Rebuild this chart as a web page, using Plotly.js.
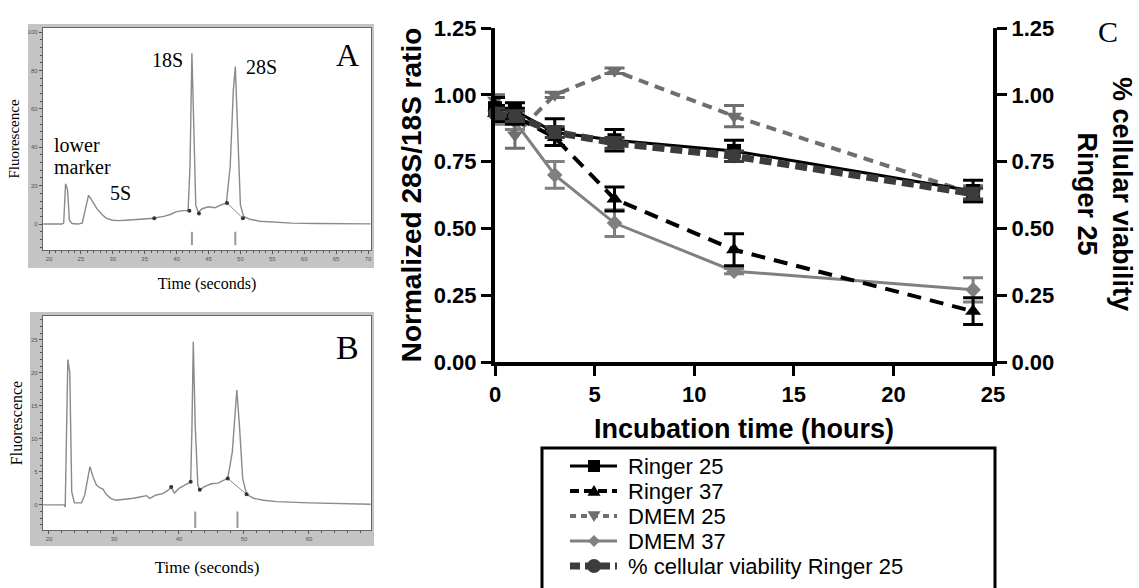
<!DOCTYPE html>
<html>
<head>
<meta charset="utf-8">
<script src="https://cdn.plot.ly/plotly-3.0.1.min.js"></script>
<style>html,body{margin:0;padding:0;background:#fff;}#chart{width:1139px;height:588px;}</style>
</head>
<body>
<div id="chart"></div>
<script>
// ---------- Panel C data (incubation time course) ----------
const hours = [0, 1, 3, 6, 12, 24];
const ringer25 = [0.95, 0.94, 0.86, 0.83, 0.79, 0.64];
const ringer25Err = [0.04, 0.03, 0.05, 0.04, 0.04, 0.04];
const ringer37 = [0.93, 0.92, 0.84, 0.61, 0.42, 0.19];
const ringer37Err = [0.03, 0.03, 0.03, 0.045, 0.06, 0.05];
const dmem25 = [0.98, 0.85, 1.00, 1.09, 0.92, 0.63];
const dmem25Err = [0.02, 0.05, 0.01, 0.01, 0.04, 0.03];
const dmem37 = [0.94, 0.90, 0.70, 0.52, 0.34, 0.27];
const dmem37Err = [0.05, 0.03, 0.05, 0.05, 0.01, 0.045];
const viability25 = [0.93, 0.92, 0.86, 0.82, 0.77, 0.63];
const viability25Err = [0.02, 0.02, 0.02, 0.02, 0.02, 0.02];
const seriesNames = ["Ringer 25", "Ringer 37", "DMEM 25", "DMEM 37", "% cellular viability Ringer 25"];
const ratioTicks = [0, 0.25, 0.5, 0.75, 1.0, 1.25];
const hourTicks = [0, 5, 10, 15, 20, 25];

// ---------- Panel A electropherogram ----------
const aTime = [19.1, 22.0, 22.3, 22.6, 22.9, 23.2, 23.6, 24.5, 25.2, 25.7, 26.2, 26.8, 27.5, 28.3, 29.0, 30, 31, 32, 33, 34, 35, 36, 36.5, 37, 38, 39, 40, 41, 41.8, 42.1, 42.4, 42.7, 43.0, 43.4, 44, 45, 46, 47, 47.8, 48.4, 48.9, 49.2, 49.6, 50.0, 50.5, 51.5, 53, 55, 58, 62, 66, 70.4];
const aFluor = [0, 0, 0.5, 21, 18, 2, 0.3, 0, 0.5, 8, 15, 12, 8, 5, 3, 2, 1.8, 2, 2.2, 2.5, 2.6, 3, 3, 3.5, 4, 5, 6.5, 7, 7, 30, 89, 50, 10, 6, 8, 9, 8.5, 10, 11, 30, 70, 82, 50, 10, 4, 2.5, 1.5, 1, 0.5, 0.3, 0.2, 0.1];
const aDotTime = [36.5, 42.0, 43.5, 47.9, 50.4];
const aDotFluor = [3, 7, 5.5, 11, 3];
const aFragTime = [42.4, 42.4, null, 49.2, 49.2];
const aFragFluor = [-4, -11, null, -4, -11];
const aXTicks = [20, 25, 30, 35, 40, 45, 50, 55, 60, 65, 70];
const aYTicks = [0, 20, 40, 60, 80, 100];

// ---------- Panel B electropherogram ----------
const bTime = [19.1, 22.3, 22.5, 22.7, 22.9, 23.2, 23.5, 23.9, 25.0, 25.5, 26.0, 26.3, 26.8, 27.3, 27.8, 28.3, 28.8, 29.5, 30.3, 31.5, 33, 34, 35, 35.5, 36.5, 37.5, 38.3, 38.8, 39.3, 40, 41, 41.8, 42.0, 42.2, 42.5, 42.9, 43.2, 44, 45, 46, 47, 47.5, 48.2, 48.6, 48.9, 49.3, 49.8, 50.4, 51.5, 53, 55, 60, 65, 69.5];
const bFluor = [0, 0, -0.3, 10, 22, 20, 2, 0.3, 0.3, 1.5, 4.5, 5.8, 4.2, 3, 2.6, 2.4, 1.6, 1, 0.7, 0.8, 1, 1.2, 1.4, 1, 1.5, 1.7, 2.2, 2.7, 1.8, 2.5, 3, 3.5, 12, 24.7, 12, 3, 2.3, 2.8, 3.2, 3.3, 3.8, 4, 8, 14, 17.4, 12, 4, 1.6, 1, 0.7, 0.5, 0.3, 0.2, 0.1];
const bDotTime = [38.8, 41.8, 43.2, 47.5, 50.4];
const bDotFluor = [2.7, 3.5, 2.3, 4, 1.6];
const bFragTime = [42.5, 42.5, null, 49.0, 49.0];
const bFragFluor = [-1, -3.5, null, -1, -3.5];
const bXTicks = [20, 30, 40, 50, 60];
const bYTicks = [0, 5, 10, 15, 20, 25];

// ---------- helpers (pixel -> paper) ----------
const W = 1139, H = 588;
const px = x => x / W;
const py = y => 1 - y / H;
const P = (x, y) => px(x) + ',' + py(y);

const SANS = 'Liberation Sans, Arial, sans-serif';
const SERIF = 'Liberation Serif, Times New Roman, serif';
const traceGray = '#8a8a8a';

const traces = [
  // Panel A
  {x: aTime, y: aFluor, xaxis: 'x2', yaxis: 'y2', mode: 'lines', line: {color: traceGray, width: 1.4}},
  {x: [aDotTime[3], aDotTime[4]], y: [aDotFluor[3], aDotFluor[4]], xaxis: 'x2', yaxis: 'y2', mode: 'lines', line: {color: traceGray, width: 1}},
  {x: aDotTime, y: aDotFluor, xaxis: 'x2', yaxis: 'y2', mode: 'markers', marker: {color: '#333', size: 4}},
  {x: aFragTime, y: aFragFluor, xaxis: 'x2', yaxis: 'y2', mode: 'lines', line: {color: '#999', width: 2}},
  // Panel B
  {x: bTime, y: bFluor, xaxis: 'x3', yaxis: 'y3', mode: 'lines', line: {color: traceGray, width: 1.4}},
  {x: [bDotTime[3], bDotTime[4]], y: [bDotFluor[3], bDotFluor[4]], xaxis: 'x3', yaxis: 'y3', mode: 'lines', line: {color: traceGray, width: 1}},
  {x: bDotTime, y: bDotFluor, xaxis: 'x3', yaxis: 'y3', mode: 'markers', marker: {color: '#333', size: 4}},
  {x: bFragTime, y: bFragFluor, xaxis: 'x3', yaxis: 'y3', mode: 'lines', line: {color: '#999', width: 2}},
  // Panel C
  {name: seriesNames[3], x: hours, y: dmem37, xaxis: 'x', yaxis: 'y', mode: 'lines+markers', cliponaxis: false,
   line: {color: '#808080', width: 3}, marker: {symbol: 'diamond', size: 12, color: '#808080'},
   error_y: {type: 'data', array: dmem37Err, color: '#808080', thickness: 3, width: 10}},
  {name: seriesNames[2], x: hours, y: dmem25, xaxis: 'x', yaxis: 'y', mode: 'lines+markers', cliponaxis: false,
   line: {color: '#6e6e6e', width: 4, dash: '10px,7px'}, marker: {symbol: 'triangle-down', size: 14, color: '#6e6e6e'},
   error_y: {type: 'data', array: dmem25Err, color: '#6e6e6e', thickness: 3, width: 10}},
  {name: seriesNames[1], x: hours, y: ringer37, xaxis: 'x', yaxis: 'y', mode: 'lines+markers', cliponaxis: false,
   line: {color: '#000', width: 4, dash: '14px,9px'}, marker: {symbol: 'triangle-up', size: 14, color: '#000'},
   error_y: {type: 'data', array: ringer37Err, color: '#000', thickness: 3, width: 10}},
  {name: seriesNames[0], x: hours, y: ringer25, xaxis: 'x', yaxis: 'y', mode: 'lines+markers', cliponaxis: false,
   line: {color: '#000', width: 3}, marker: {symbol: 'square', size: 14, color: '#000'},
   error_y: {type: 'data', array: ringer25Err, color: '#000', thickness: 3, width: 10}},
  {name: seriesNames[4], x: hours, y: viability25, xaxis: 'x', yaxis: 'y4', mode: 'lines+markers', cliponaxis: false,
   line: {color: '#3c3c3c', width: 7, dash: '12px,6px'}, marker: {symbol: 'circle', size: 14, color: '#3c3c3c'},
   error_y: {type: 'data', array: viability25Err, color: '#3c3c3c', thickness: 3, width: 10}}
];

const cAxisCommon = {
  showline: true, linewidth: 4, linecolor: '#000', ticks: 'outside', ticklen: 10, tickwidth: 3, tickcolor: '#000',
  showgrid: false, zeroline: false, fixedrange: true,
  tickfont: {family: SANS, size: 22, weight: 'bold', color: '#000'}
};
const abAxisCommon = {
  showline: true, linewidth: 1.2, linecolor: '#666', mirror: true, ticks: 'outside', ticklen: 3, tickwidth: 1, tickcolor: '#555',
  showgrid: false, zeroline: false, fixedrange: true,
  tickfont: {family: SANS, size: 6, color: '#555'}
};

const layout = {
  width: W, height: H, margin: {l: 0, r: 0, t: 0, b: 0, pad: 0},
  paper_bgcolor: '#fff', plot_bgcolor: 'rgba(0,0,0,0)', showlegend: false,
  font: {family: SANS, color: '#000'},
  // Panel C
  xaxis: Object.assign({}, cAxisCommon, {
    domain: [px(495), px(993)], anchor: 'y', range: [0, 25], tickvals: hourTicks,
    title: {text: 'Incubation time (hours)', font: {family: SANS, size: 27, weight: 'bold'}, standoff: 14}
  }),
  yaxis: Object.assign({}, cAxisCommon, {
    domain: [py(362), py(28)], anchor: 'x', range: [0, 1.25], tickvals: ratioTicks, tickformat: '.2f',
    title: {text: 'Normalized 28S/18S ratio', font: {family: SANS, size: 28, weight: 'bold'}, standoff: 5}
  }),
  yaxis4: Object.assign({}, cAxisCommon, {
    overlaying: 'y', side: 'right', anchor: 'x', range: [0, 1.25], tickvals: ratioTicks, tickformat: '.2f'
  }),
  // Panel A
  xaxis2: Object.assign({}, abAxisCommon, {
    domain: [px(43), px(371)], anchor: 'y2', range: [19.06, 70.47], tickvals: aXTicks,
    minor: {dtick: 1, ticklen: 2, tickcolor: '#555', ticks: 'outside'},
    title: {text: 'Time (seconds)', font: {family: SERIF, size: 16, color: '#000'}, standoff: 16}
  }),
  yaxis2: Object.assign({}, abAxisCommon, {
    domain: [py(250), py(28)], anchor: 'x2', range: [-13.5, 102.1], tickvals: aYTicks,
    minor: {dtick: 4, ticklen: 2, tickcolor: '#555', ticks: 'outside'},
    title: {text: 'Fluorescence', font: {family: SERIF, size: 15, color: '#000'}, standoff: 4}
  }),
  // Panel B
  xaxis3: Object.assign({}, abAxisCommon, {
    domain: [px(43), px(371)], anchor: 'y3', range: [19.08, 69.54], tickvals: bXTicks,
    minor: {dtick: 2, ticklen: 2, tickcolor: '#555', ticks: 'outside'},
    title: {text: 'Time (seconds)', font: {family: SERIF, size: 17, color: '#000'}, standoff: 19}
  }),
  yaxis3: Object.assign({}, abAxisCommon, {
    domain: [py(530), py(316)], anchor: 'x3', range: [-3.8, 28.6], tickvals: bYTicks,
    minor: {dtick: 1, ticklen: 2, tickcolor: '#555', ticks: 'outside'},
    title: {text: 'Fluorescence', font: {family: SERIF, size: 16, color: '#000'}, standoff: 4}
  }),
  shapes: [],
  annotations: []
};

// gray instrument frames for A and B with white plot windows
function frame(x0, y0, x1, y1, ix0, iy0, ix1, iy1) {
  layout.shapes.push({type: 'rect', xref: 'paper', yref: 'paper', layer: 'below',
    x0: px(x0), x1: px(x1), y0: py(y1), y1: py(y0), fillcolor: '#c4c4c4', line: {width: 0}});
  layout.shapes.push({type: 'rect', xref: 'paper', yref: 'paper', layer: 'below',
    x0: px(ix0), x1: px(ix1), y0: py(iy1), y1: py(iy0), fillcolor: '#fff', line: {width: 0}});
}
frame(28, 24, 374, 268, 43, 28, 371, 250);
frame(30, 312, 374, 546, 43, 316, 371, 530);

function ann(text, x, y, size, family, opts) {
  layout.annotations.push(Object.assign({text: text, x: px(x), y: py(y), xref: 'paper', yref: 'paper',
    showarrow: false, xanchor: 'center', yanchor: 'middle',
    font: {family: family, size: size, color: '#000'}}, opts || {}));
}
// Panel A labels
ann('lower', 52, 145, 20, SERIF, {xanchor: 'left'});
ann('marker', 52, 167, 20, SERIF, {xanchor: 'left'});
ann('5S', 120, 193, 20, SERIF);
ann('18S', 167, 60, 20, SERIF);
ann('28S', 261, 67, 20, SERIF);
ann('A', 347, 55, 32, SERIF);
ann('B', 347, 347, 34, SERIF);
// Panel C extra labels
ann('C', 1108, 32, 30, SERIF);
ann('% cellular viability<br>Ringer 25', 1105, 194, 27, SANS, {textangle: 90, font: {family: SANS, size: 27, weight: 'bold', color: '#000'}});

// custom legend (tight line pitch as in the figure)
layout.shapes.push({type: 'rect', xref: 'paper', yref: 'paper', x0: px(542), x1: px(995), y0: py(620), y1: py(448),
  line: {color: '#000', width: 3}, fillcolor: 'rgba(0,0,0,0)'});
const legY = [466, 491, 516, 541, 566];
const legStyle = [
  {color: '#000', width: 3, dash: 'solid', sym: 'square'},
  {color: '#000', width: 4, dash: '9px,5px', sym: 'tri-up'},
  {color: '#6e6e6e', width: 4, dash: '6px,5px', sym: 'tri-down'},
  {color: '#808080', width: 3, dash: 'solid', sym: 'diamond'},
  {color: '#3c3c3c', width: 7, dash: '10px,5px', sym: 'circle'}
];
function symPath(sym, x, y, s) {
  if (sym === 'square') return 'M' + P(x - s, y - s) + 'L' + P(x + s, y - s) + 'L' + P(x + s, y + s) + 'L' + P(x - s, y + s) + 'Z';
  if (sym === 'tri-up') return 'M' + P(x, y - s) + 'L' + P(x + s * 1.1, y + s * 0.8) + 'L' + P(x - s * 1.1, y + s * 0.8) + 'Z';
  if (sym === 'tri-down') return 'M' + P(x, y + s) + 'L' + P(x + s * 1.1, y - s * 0.8) + 'L' + P(x - s * 1.1, y - s * 0.8) + 'Z';
  if (sym === 'diamond') return 'M' + P(x, y - s) + 'L' + P(x + s, y) + 'L' + P(x, y + s) + 'L' + P(x - s, y) + 'Z';
  return null;
}
seriesNames.forEach((nm, i) => {
  const st = legStyle[i], y = legY[i];
  layout.shapes.push({type: 'line', xref: 'paper', yref: 'paper', x0: px(570), x1: px(617), y0: py(y), y1: py(y),
    line: {color: st.color, width: st.width, dash: st.dash}});
  if (st.sym === 'circle') {
    layout.shapes.push({type: 'circle', xref: 'paper', yref: 'paper', x0: px(587), x1: px(601), y0: py(y + 7), y1: py(y - 7),
      fillcolor: st.color, line: {width: 0}});
  } else {
    layout.shapes.push({type: 'path', xref: 'paper', yref: 'paper', path: symPath(st.sym, 594, y, 6),
      fillcolor: st.color, line: {width: 0}});
  }
  ann(nm, 627, y, 22, SANS, {xanchor: 'left', borderpad: 0});
});

Plotly.newPlot('chart', traces, layout, {staticPlot: true, displayModeBar: false});
</script>
</body>
</html>
